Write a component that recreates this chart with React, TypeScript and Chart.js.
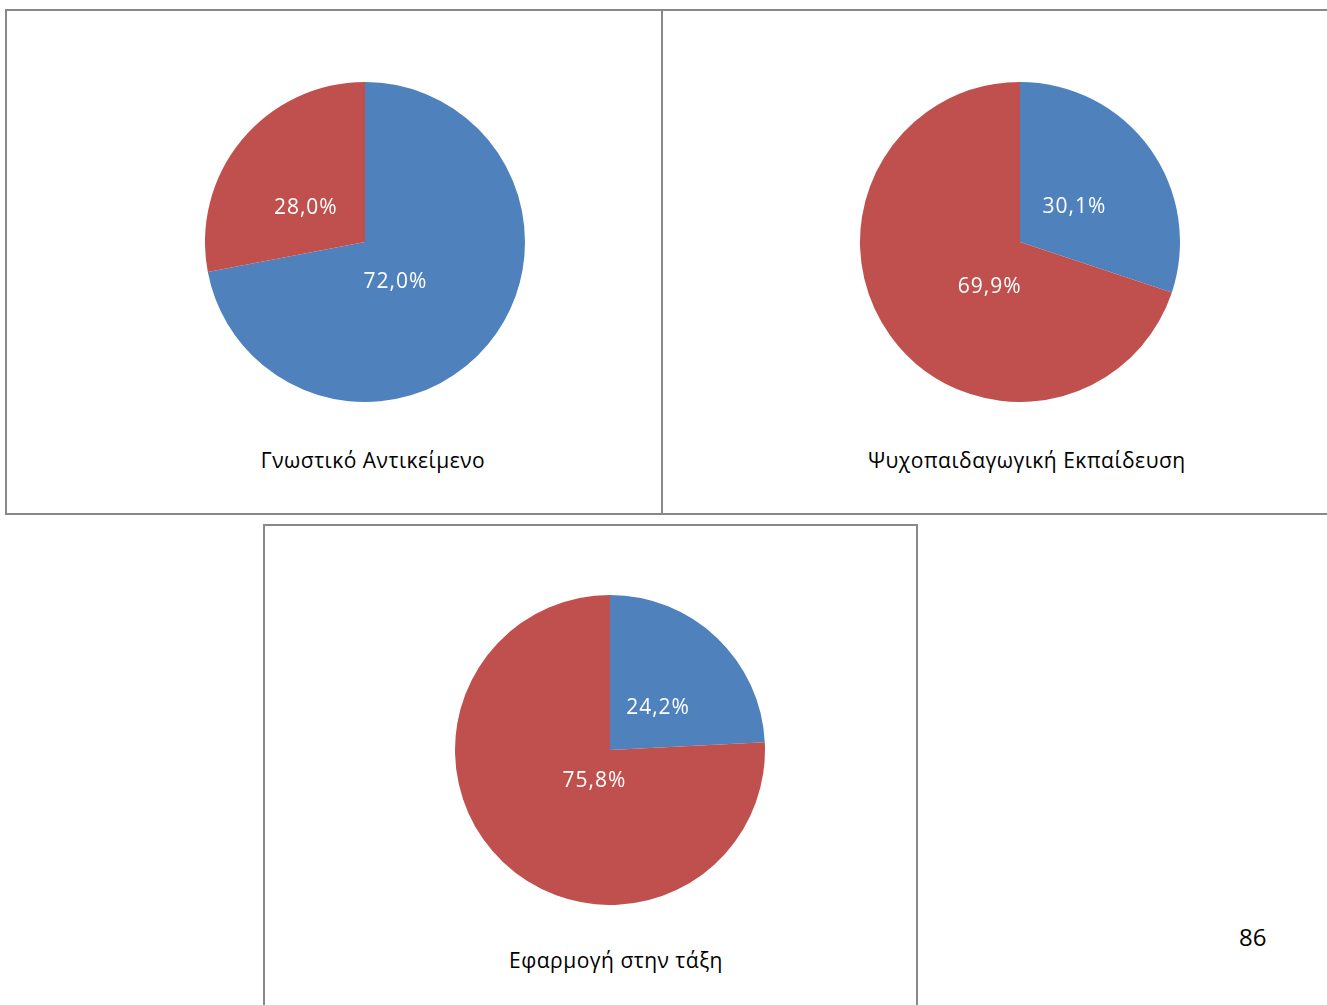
import React, { useEffect, useRef } from "react";
import { Chart, registerables } from "chart.js";

Chart.register(...registerables);

// Chart titles and the share (%) of each slice, first slice blue, second red
const chartTitles = ["Γνωστικό Αντικείμενο", "Ψυχοπαιδαγωγική Εκπαίδευση", "Εφαρμογή στην τάξη"];
const blueShares = [72.0, 30.1, 24.2];
const redShares = [28.0, 69.9, 75.8];
const pageNumber = "86";

const BLUE = "#4F81BD";
const RED = "#C0504D";
const FONT = "'Open Sans', 'DejaVu Sans', sans-serif";

const fmt = (v: number) => v.toFixed(1).replace(".", ",") + "%";

// Label placement inside each slice: offset from the pie centre in units of radius
type Offset = { dx: number; dy: number };

const valueLabelPlugin = {
  id: "valueLabels",
  afterDatasetsDraw(chart: any, _args: any, opts: any) {
    const meta = chart.getDatasetMeta(0);
    const ds = chart.data.datasets[0];
    const ctx = chart.ctx;
    const offsets: Offset[] = opts.offsets || [];
    ctx.save();
    ctx.fillStyle = "#ffffff";
    ctx.font = `21px ${FONT}`;
    (ctx as any).letterSpacing = "1px";
    ctx.textAlign = "center";
    ctx.textBaseline = "middle";
    meta.data.forEach((arc: any, i: number) => {
      const { x, y, outerRadius } = arc.getProps(["x", "y", "outerRadius"], true);
      const o = offsets[i] || { dx: 0, dy: 0 };
      ctx.fillText(fmt(ds.data[i]), x + o.dx * outerRadius, y + o.dy * outerRadius + 1.5);
    });
    ctx.restore();
  },
};

type PieProps = {
  values: number[];
  offsets: Offset[];
  style: React.CSSProperties;
};

function Pie({ values, offsets, style }: PieProps) {
  const ref = useRef<HTMLCanvasElement | null>(null);
  useEffect(() => {
    if (!ref.current) return;
    const chart = new Chart(ref.current, {
      type: "pie",
      data: {
        labels: ["", ""],
        datasets: [
          {
            data: values,
            backgroundColor: [BLUE, RED],
            borderWidth: 0,
            hoverOffset: 0,
          },
        ],
      },
      options: {
        responsive: false,
        animation: false,
        layout: { padding: 0 },
        plugins: {
          legend: { display: false },
          tooltip: { enabled: false },
          title: { display: false },
          valueLabels: { offsets },
        } as any,
      },
      plugins: [valueLabelPlugin],
    });
    return () => chart.destroy();
  }, []);
  const w = style.width as number;
  const h = style.height as number;
  return <canvas ref={ref} width={w} height={h} style={{ position: "absolute", ...style }} />;
}

const boxStyle = (left: number, top: number, width: number, height: number): React.CSSProperties => ({
  position: "absolute",
  left,
  top,
  width,
  height,
  border: "2px solid #888888",
  boxSizing: "border-box",
  background: "#ffffff",
});

const titleStyle = (left: number, top: number, width: number): React.CSSProperties => ({
  position: "absolute",
  left,
  top,
  width,
  textAlign: "center",
  fontFamily: FONT,
  fontSize: 21,
  letterSpacing: "0.5px",
  color: "#000000",
  lineHeight: "24px",
  whiteSpace: "nowrap",
});

export default function App() {
  return (
    <div style={{ position: "absolute", left: 0, top: 0, width: 1327, height: 1005, overflow: "hidden", background: "#fff" }}>
      <div style={boxStyle(5, 9, 658, 506)} />
      <div style={boxStyle(661, 9, 700, 506)} />
      <div style={boxStyle(263, 524, 655, 520)} />

      <Pie
        values={[blueShares[0], redShares[0]]}
        offsets={[{ dx: 0.19, dy: 0.24 }, { dx: -0.37, dy: -0.22 }]}
        style={{ left: 205, top: 82, width: 320, height: 320 }}
      />
      <Pie
        values={[blueShares[1], redShares[1]]}
        offsets={[{ dx: 0.34, dy: -0.23 }, { dx: -0.19, dy: 0.27 }]}
        style={{ left: 860, top: 82, width: 320, height: 320 }}
      />
      <Pie
        values={[blueShares[2], redShares[2]]}
        offsets={[{ dx: 0.31, dy: -0.28 }, { dx: -0.1, dy: 0.19 }]}
        style={{ left: 455, top: 595, width: 310, height: 310 }}
      />

      <div style={titleStyle(173, 448, 400)}>{chartTitles[0]}</div>
      <div style={titleStyle(827, 448, 400)}>{chartTitles[1]}</div>
      <div style={titleStyle(416, 948, 400)}>{chartTitles[2]}</div>

      <div style={{ position: "absolute", left: 1239, top: 920, fontFamily: FONT, fontSize: 24, color: "#000" }}>
        {pageNumber}
      </div>
    </div>
  );
}
